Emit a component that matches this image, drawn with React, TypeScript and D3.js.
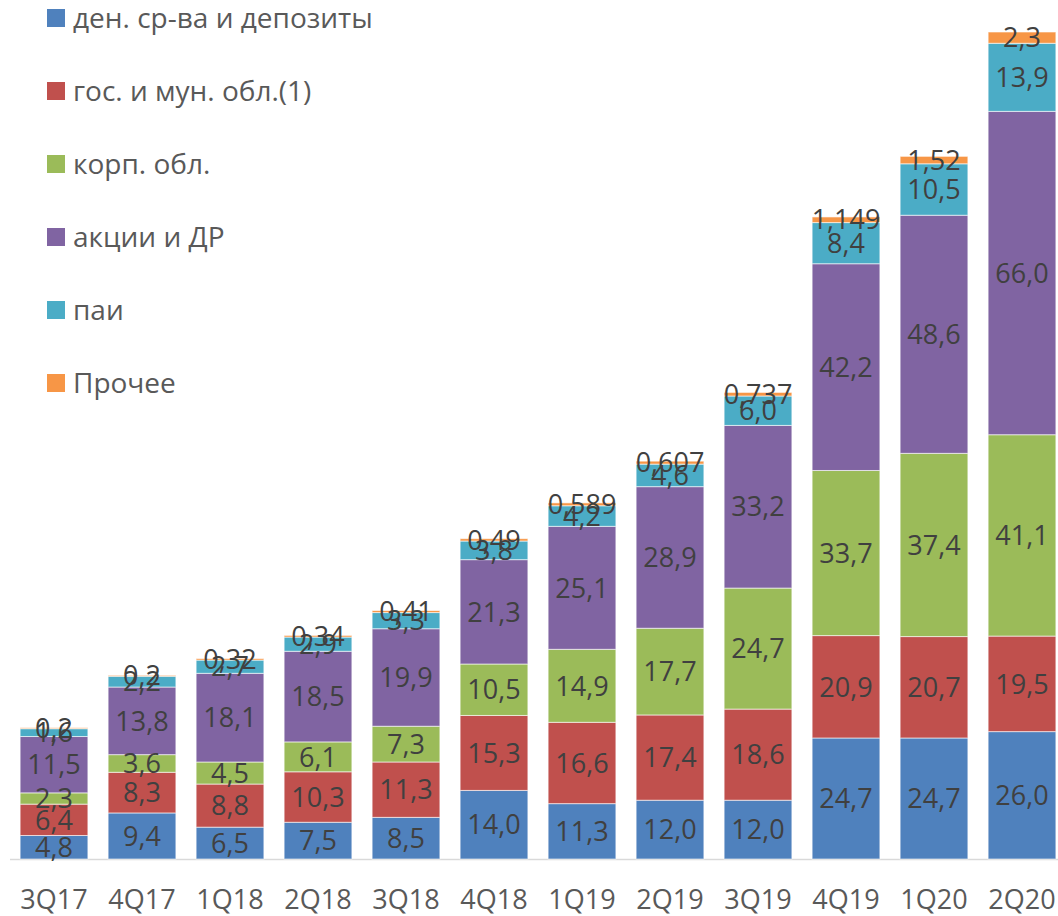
import React, { useEffect, useRef } from 'react';
import * as d3 from 'd3';

// quarters on the x axis
const quarters = ['3Q17', '4Q17', '1Q18', '2Q18', '3Q18', '4Q18', '1Q19', '2Q19', '3Q19', '4Q19', '1Q20', '2Q20'];

// series values, bottom to top
const cash = [4.8, 9.4, 6.5, 7.5, 8.5, 14.0, 11.3, 12.0, 12.0, 24.7, 24.7, 26.0];
const govBonds = [6.4, 8.3, 8.8, 10.3, 11.3, 15.3, 16.6, 17.4, 18.6, 20.9, 20.7, 19.5];
const corpBonds = [2.3, 3.6, 4.5, 6.1, 7.3, 10.5, 14.9, 17.7, 24.7, 33.7, 37.4, 41.1];
const shares = [11.5, 13.8, 18.1, 18.5, 19.9, 21.3, 25.1, 28.9, 33.2, 42.2, 48.6, 66.0];
const funds = [1.6, 2.2, 2.7, 2.9, 3.3, 3.8, 4.2, 4.6, 6.0, 8.4, 10.5, 13.9];
const other = [0.2, 0.2, 0.32, 0.34, 0.41, 0.49, 0.589, 0.607, 0.737, 1.149, 1.52, 2.3];

const seriesNames = ['ден. ср-ва и депозиты', 'гос. и мун. обл.(1)', 'корп. обл.', 'акции и ДР', 'паи', 'Прочее'];
const seriesColors = ['#4F81BD', '#C0504D', '#9BBB59', '#8064A2', '#4BACC6', '#F79646'];
const seriesKeys = ['cash', 'govBonds', 'corpBonds', 'shares', 'funds', 'other'];

const FONT = '"Open Sans", sans-serif';

function Chart() {
  const ref = useRef<SVGSVGElement>(null);

  useEffect(() => {
    document.body.style.margin = '0';
    const width = 1058;
    const height = 916;
    const baseline = 859;
    const top = 32;

    const svg = d3.select(ref.current).attr('width', width).attr('height', height);
    svg.selectAll('*').remove();

    const all = [cash, govBonds, corpBonds, shares, funds, other];
    const data = quarters.map((q, i) => {
      const row: any = { q };
      seriesKeys.forEach((k, j) => { row[k] = all[j][i]; });
      return row;
    });

    const stacked = d3.stack().keys(seriesKeys)(data);

    const xScale = d3.scaleBand()
      .domain(quarters)
      .range([10, 1066])
      .paddingInner(0.23)
      .paddingOuter(0.115);

    const maxTotal = d3.max(stacked[stacked.length - 1], d => d[1]) as number;
    const yScale = d3.scaleLinear()
      .domain([0, maxTotal])
      .range([baseline, top]);

    // axis line
    svg.append('line')
      .attr('x1', 10).attr('x2', width)
      .attr('y1', baseline + 0.5).attr('y2', baseline + 0.5)
      .attr('stroke', '#d9d9d9').attr('stroke-width', 1.5);

    // bars
    const layers = svg.selectAll('.layer')
      .data(stacked)
      .join('g')
      .attr('class', 'layer')
      .attr('fill', (d, i) => seriesColors[i]);

    layers.selectAll('rect')
      .data(d => d)
      .join('rect')
      .attr('x', (d: any) => xScale(d.data.q) as number)
      .attr('width', xScale.bandwidth())
      .attr('y', d => yScale(d[1]))
      .attr('height', d => yScale(d[0]) - yScale(d[1]))
      .attr('stroke', '#ffffff')
      .attr('stroke-opacity', 0.6)
      .attr('stroke-width', 1);

    // x labels
    svg.selectAll('.xlabel')
      .data(quarters)
      .join('text')
      .attr('class', 'xlabel')
      .attr('x', d => (xScale(d) as number) + xScale.bandwidth() / 2)
      .attr('y', 909)
      .attr('text-anchor', 'middle')
      .attr('font-family', FONT)
      .attr('font-size', 27)
      .attr('fill', '#595959')
      .text(d => d);

    // data labels (small top segments overlap, as in the original)
    stacked.forEach((layer, li) => {
      svg.selectAll('.lbl' + li)
        .data(layer)
        .join('text')
        .attr('class', 'lbl' + li)
        .attr('x', (d: any) => (xScale(d.data.q) as number) + xScale.bandwidth() / 2)
        .attr('y', d => (yScale(d[0]) + yScale(d[1])) / 2)
        .attr('dy', '0.36em')
        .attr('text-anchor', 'middle')
        .attr('font-family', FONT)
        .attr('font-size', 27)
        .attr('fill', '#404040')
        .text(d => {
          const v = d[1] - d[0];
          const s = li === 5 ? String(+v.toFixed(3)) : v.toFixed(1);
          return s.replace('.', ',');
        });
    });

    // legend
    const legend = svg.selectAll('.legend')
      .data(seriesNames)
      .join('g')
      .attr('class', 'legend')
      .attr('transform', (d, i) => `translate(47, ${18 + i * 73})`);

    legend.append('rect')
      .attr('x', 0).attr('y', -9)
      .attr('width', 18).attr('height', 18)
      .attr('fill', (d, i) => seriesColors[i]);

    legend.append('text')
      .attr('x', 26)
      .attr('y', 0)
      .attr('dy', '0.36em')
      .attr('font-family', FONT)
      .attr('font-size', 28)
      .attr('fill', '#595959')
      .text(d => d);
  }, []);

  return <svg ref={ref} style={{ display: 'block' }}></svg>;
}

export default function App() {
  return <Chart />;
}
